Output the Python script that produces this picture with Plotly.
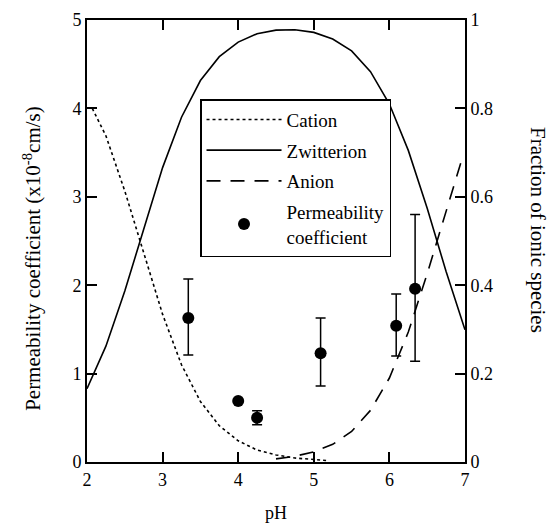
import plotly.graph_objects as go

# Speciation curves (fraction of ionic species)
ph_cation = [2.07, 2.25, 2.5, 2.75, 3.0, 3.25, 3.5, 3.75, 4.0, 4.25, 4.5, 4.75, 5.0, 5.2]
cation = [0.80, 0.738, 0.613, 0.471, 0.334, 0.220, 0.137, 0.082, 0.048, 0.027, 0.016, 0.009, 0.005, 0.003]

ph_zw = [2.0, 2.25, 2.5, 2.75, 3.0, 3.25, 3.5, 3.75, 4.0, 4.25, 4.5, 4.75, 5.0, 5.25, 5.5, 5.75, 6.0, 6.25, 6.5, 6.75, 7.0]
zwitterion = [0.166, 0.262, 0.387, 0.529, 0.666, 0.780, 0.863, 0.917, 0.950, 0.969, 0.977, 0.978, 0.972, 0.957, 0.930, 0.883, 0.810, 0.705, 0.574, 0.431, 0.299]

ph_an = [4.5, 4.75, 5.0, 5.25, 5.5, 5.75, 6.0, 6.25, 6.5, 6.75, 6.95]
anion = [0.007, 0.013, 0.023, 0.040, 0.069, 0.117, 0.190, 0.294, 0.426, 0.569, 0.68]

# Permeability coefficient (x10^-8 cm/s)
ph_p = [3.34, 4.0, 4.25, 5.09, 6.09, 6.34]
perm = [1.63, 0.69, 0.50, 1.23, 1.54, 1.96]
err_plus = [0.44, 0.0, 0.08, 0.40, 0.36, 0.84]
err_minus = [0.42, 0.0, 0.08, 0.37, 0.34, 0.82]

FONT = "Liberation Serif, Times New Roman, serif"

fig = go.Figure()
fig.add_trace(go.Scatter(x=ph_cation, y=cation, yaxis="y2", mode="lines", name="Cation", legendgroup="a",
                         line=dict(color="black", width=1.6, dash="dot")))
fig.add_trace(go.Scatter(x=ph_zw, y=zwitterion, yaxis="y2", mode="lines", name="Zwitterion", legendgroup="b",
                         line=dict(color="black", width=1.6)))
fig.add_trace(go.Scatter(x=ph_an, y=anion, yaxis="y2", mode="lines", name="Anion", legendgroup="c",
                         line=dict(color="black", width=1.6, dash="14px,10px")))
fig.add_trace(go.Scatter(x=ph_p, y=perm, mode="markers", name="Permeability<br>coefficient", legendgroup="d",
                         marker=dict(color="black", size=12),
                         error_y=dict(type="data", symmetric=False, array=err_plus, arrayminus=err_minus,
                                      color="black", thickness=1.5, width=5)))

axis_common = dict(showline=True, linecolor="black", linewidth=2, ticks="inside", ticklen=10,
                   tickwidth=1.5, tickcolor="black", showgrid=False, zeroline=False, automargin=False,
                   tickfont=dict(family=FONT, size=18, color="black"))

# The page body adds an 8px offset, so the figure is 8px smaller and margins shifted.
fig.update_layout(
    width=549, height=519,
    margin=dict(l=79, r=92, t=12, b=65, autoexpand=False),
    paper_bgcolor="white", plot_bgcolor="white",
    font=dict(family=FONT, size=18, color="black"),
    showlegend=True,
    legend=dict(x=0.299, y=0.821, xanchor="left", yanchor="top", traceorder="grouped",
                bordercolor="black", borderwidth=1.5, bgcolor="white",
                font=dict(family=FONT, size=19), itemwidth=75, tracegroupgap=3),
    xaxis=dict(range=[2, 7], tickvals=[2, 3, 4, 5, 6, 7], mirror="ticks", **axis_common),
    yaxis=dict(range=[0, 5], tickvals=[0, 1, 2, 3, 4, 5], **axis_common),
    yaxis2=dict(range=[0, 1], tickvals=[0, 0.2, 0.4, 0.6, 0.8, 1], ticktext=["0", "0.2", "0.4", "0.6", "0.8", "1"],
                overlaying="y", side="right", **axis_common),
    annotations=[
        dict(text="Fraction of ionic species", textangle=90, xref="paper", yref="paper",
             x=1.193, y=0.525, xanchor="center", yanchor="middle", showarrow=False,
             font=dict(family=FONT, size=21)),
        dict(text="Permeability coefficient (x10<sup>-8</sup>cm/s)", textangle=-90, xref="paper", yref="paper",
             x=-0.145, y=0.46, xanchor="center", yanchor="middle", showarrow=False,
             font=dict(family=FONT, size=21)),
        dict(text="pH", xref="paper", yref="paper", x=0.5, y=-0.115, xanchor="center", yanchor="middle",
             showarrow=False, font=dict(family=FONT, size=18)),
    ],
)

fig.write_html("out.html")
